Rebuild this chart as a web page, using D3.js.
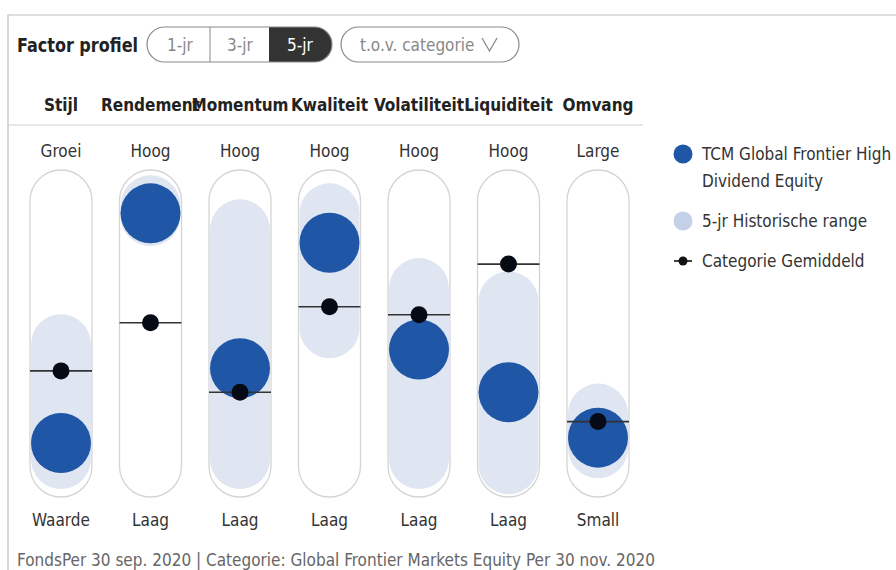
<!DOCTYPE html>
<html>
<head>
<meta charset="utf-8">
<script src="https://cdn.jsdelivr.net/npm/d3@7"></script>
<style>
  body { margin: 0; background: #fff; }
  svg { display: block; }
  text { font-family: "Liberation Sans Narrow", "Arial Narrow", "DejaVu Sans Condensed", "Roboto Condensed", sans-serif; }
</style>
</head>
<body>
<div id="chart"></div>
<script>
var factors = ["Stijl", "Rendement", "Momentum", "Kwaliteit", "Volatiliteit", "Liquiditeit", "Omvang"];
var topLabels = ["Groei", "Hoog", "Hoog", "Hoog", "Hoog", "Hoog", "Large"];
var bottomLabels = ["Waarde", "Laag", "Laag", "Laag", "Laag", "Laag", "Small"];
var fundValues = [9, 95, 37, 84, 44, 28, 11];
var categoryValues = [36, 54, 28, 60, 57, 76, 17];
var rangeLow = [3, 94, 3, 52, 3, 1, 7];
var rangeHigh = [46, 98, 89, 95, 67, 62, 20];
var periods = ["1-jr", "3-jr", "5-jr"];
var legendItems = ["TCM Global Frontier High", "Dividend Equity", "5-jr Historische range", "Categorie Gemiddeld"];
var footnote = "FondsPer 30 sep. 2020 | Categorie: Global Frontier Markets Equity Per 30 nov. 2020";

var width = 896, height = 570;
var capW = 62, r = 30;
var fundColor = "#1f56a5", rangeColor = "#dfe6f1", rangeLegend = "#c3d0e8";

var svg = d3.select("#chart").append("svg")
    .attr("width", width)
    .attr("height", height);

// frame
svg.append("path")
    .attr("d", "M8,570V15H896")
    .attr("fill", "none")
    .attr("stroke", "#bdbdbd")
    .attr("stroke-width", 1.2);

// title
svg.append("text")
    .attr("x", 17).attr("y", 52)
    .style("font-size", "20px").style("font-weight", "bold")
    .attr("textLength", 121).attr("lengthAdjust", "spacingAndGlyphs")
    .attr("fill", "#222")
    .text("Factor profiel");

// period toggle
var pill = svg.append("g");
pill.append("clipPath").attr("id", "pillClip")
    .append("rect").attr("x", 147).attr("y", 27).attr("width", 185).attr("height", 35).attr("rx", 17.5);
pill.append("rect")
    .attr("x", 269).attr("y", 27).attr("width", 63).attr("height", 35)
    .attr("clip-path", "url(#pillClip)")
    .attr("fill", "#333");
pill.append("rect")
    .attr("x", 147).attr("y", 27).attr("width", 185).attr("height", 35).attr("rx", 17.5)
    .attr("fill", "none").attr("stroke", "#8a8a8a").attr("stroke-width", 1.2);
pill.append("line")
    .attr("x1", 210).attr("x2", 210).attr("y1", 27).attr("y2", 62)
    .attr("stroke", "#8a8a8a");
var pillX = [180, 240, 300];
pill.selectAll(".period").data(periods).enter().append("text")
    .attr("x", (d, i) => pillX[i]).attr("y", 51)
    .attr("text-anchor", "middle")
    .style("font-size", "17px")
    .attr("fill", (d, i) => i == 2 ? "#fff" : "#888")
    .text(d => d);

// compare dropdown
svg.append("rect")
    .attr("x", 341).attr("y", 27).attr("width", 178).attr("height", 35).attr("rx", 17.5)
    .attr("fill", "none").attr("stroke", "#8a8a8a").attr("stroke-width", 1.2);
svg.append("text")
    .attr("x", 360).attr("y", 51)
    .style("font-size", "17px")
    .attr("fill", "#888")
    .text("t.o.v. categorie");
svg.append("path")
    .attr("d", "M482,38L489.5,51L497,38")
    .attr("fill", "none").attr("stroke", "#888").attr("stroke-width", 1.3);

var xScale = d3.scalePoint()
    .domain(factors)
    .range([61, 598]);

var yScale = d3.scaleLinear()
    .domain([0, 100])
    .range([467, 200]);

// column headers
svg.selectAll(".factor").data(factors).enter().append("text")
    .attr("x", d => xScale(d)).attr("y", 111)
    .attr("text-anchor", "middle")
    .style("font-size", "17px").style("font-weight", "bold")
    .attr("fill", "#222")
    .text(d => d);

svg.append("line")
    .attr("x1", 8).attr("x2", 643).attr("y1", 125).attr("y2", 125)
    .attr("stroke", "#d0d0d0").attr("stroke-width", 1.2);

var cols = svg.selectAll(".col")
    .data(factors.map((f, i) => ({
        factor: f, top: topLabels[i], bottom: bottomLabels[i],
        fund: fundValues[i], cat: categoryValues[i], lo: rangeLow[i], hi: rangeHigh[i]
    })))
    .enter().append("g")
    .attr("class", "col")
    .attr("transform", d => "translate(" + xScale(d.factor) + ",0)");

cols.append("text")
    .attr("y", 157).attr("text-anchor", "middle")
    .style("font-size", "17px").attr("fill", "#333")
    .text(d => d.top);

cols.append("text")
    .attr("y", 526).attr("text-anchor", "middle")
    .style("font-size", "17px").attr("fill", "#333")
    .text(d => d.bottom);

// capsule
cols.append("rect")
    .attr("x", -capW / 2).attr("width", capW)
    .attr("y", yScale(100) - r).attr("height", yScale(0) - yScale(100) + 2 * r)
    .attr("rx", capW / 2)
    .attr("fill", "#fff").attr("stroke", "#d4d4d4").attr("stroke-width", 1.3);

// historic range
cols.append("rect")
    .attr("x", -r).attr("width", 2 * r)
    .attr("y", d => yScale(d.hi) - r)
    .attr("height", d => yScale(d.lo) - yScale(d.hi) + 2 * r)
    .attr("rx", r)
    .attr("fill", rangeColor);

// fund
cols.append("circle")
    .attr("cy", d => yScale(d.fund)).attr("r", r)
    .attr("fill", fundColor);

// category average
cols.append("line")
    .attr("x1", -capW / 2).attr("x2", capW / 2)
    .attr("y1", d => yScale(d.cat)).attr("y2", d => yScale(d.cat))
    .attr("stroke", "#333").attr("stroke-width", 1.6);
cols.append("circle")
    .attr("cy", d => yScale(d.cat)).attr("r", 8.5)
    .attr("fill", "#050a14");

// legend
var legend = svg.append("g").attr("transform", "translate(683,0)");
legend.append("circle").attr("cy", 154).attr("r", 9.5).attr("fill", fundColor);
legend.append("circle").attr("cy", 221).attr("r", 9.5).attr("fill", rangeLegend);
legend.append("line").attr("x1", -9).attr("x2", 9).attr("y1", 261).attr("y2", 261)
    .attr("stroke", "#111").attr("stroke-width", 1.6);
legend.append("circle").attr("cy", 261).attr("r", 4.5).attr("fill", "#111");
var legendY = [160, 187, 227, 267];
legend.selectAll(".lt").data(legendItems).enter().append("text")
    .attr("x", 19).attr("y", (d, i) => legendY[i])
    .style("font-size", "17px").attr("fill", "#333")
    .text(d => d);

// footnote
svg.append("text")
    .attr("x", 17).attr("y", 566)
    .style("font-size", "17px").attr("fill", "#666")
    .text(footnote);
</script>
</body>
</html>
